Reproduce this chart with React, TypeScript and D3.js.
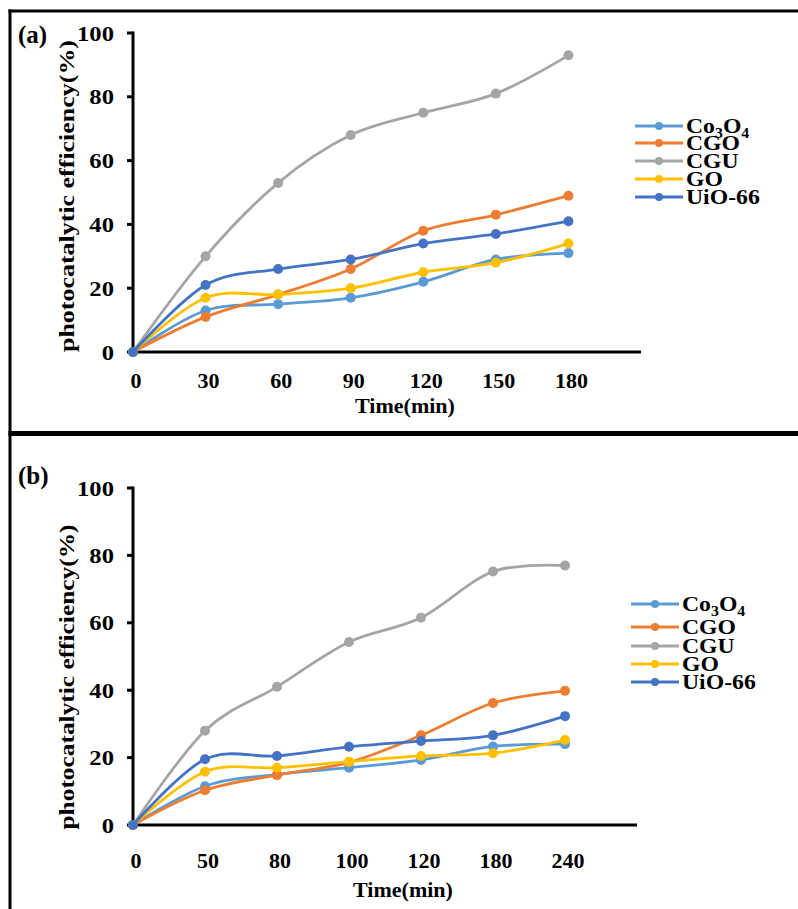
import React from "react";
import * as d3 from "d3";

const seriesNames = ["Co3O4", "CGO", "CGU", "GO", "UiO-66"];
const seriesColors = ["#5B9BD5", "#ED7D31", "#A5A5A5", "#FFC000", "#4472C4"];

const timesA = ["0", "30", "60", "90", "120", "150", "180"];
const co3o4A = [0, 13, 15, 17, 22, 29, 31];
const cgoA = [0, 11, 18, 26, 38, 43, 49];
const cguA = [0, 30, 53, 68, 75, 81, 93];
const goA = [0, 17, 18, 20, 25, 28, 34];
const uioA = [0, 21, 26, 29, 34, 37, 41];

const timesB = ["0", "50", "80", "100", "120", "180", "240"];
const co3o4B = [0, 11.5, 15, 17, 19.3, 23.3, 24];
const cgoB = [0, 10.3, 14.8, 18.6, 26.6, 36.2, 39.8];
const cguB = [0, 28, 41, 54.3, 61.5, 75.2, 77];
const goB = [0, 15.8, 17, 18.8, 20.5, 21.3, 25.2];
const uioB = [0, 19.5, 20.5, 23.2, 24.9, 26.6, 32.3];

const yTicks = [0, 20, 40, 60, 80, 100];

const FONT = "'Liberation Serif', 'Times New Roman', serif";

type PanelProps = {
  label: string;
  times: string[];
  data: number[][];
  x0: number;
  x1: number;
  yTop: number;
  yBottom: number;
  labelY: number;
  xLabelBase: number;
  xTitleY: number;
  yTitleCy: number;
  yTitleLen: number;
  legendX: number;
  legendYs: number[];
};

function Panel(p: PanelProps) {
  const x = d3.scaleLinear().domain([0, 7]).range([p.x0, p.x1]);
  const y = d3.scaleLinear().domain([0, 100]).range([p.yBottom, p.yTop]);
  const line = d3
    .line<number>()
    .x((_, i) => x(i))
    .y((d) => y(d))
    .curve(d3.curveCardinal.tension(0));
  const axisX = x(0);
  return (
    <g fontFamily={FONT} fontWeight="bold">
      <text x={18} y={p.labelY} fontSize={25}>
        {p.label}
      </text>
      <text
        transform={`translate(74,${p.yTitleCy}) rotate(-90)`}
        textAnchor="middle"
        fontSize={21}
        textLength={p.yTitleLen}
        lengthAdjust="spacingAndGlyphs"
      >
        photocatalytic efficiency(%)
      </text>
      {/* y axis */}
      <line x1={axisX} x2={axisX} y1={y(100) - 1.5} y2={y(0)} stroke="#000" strokeWidth={3} />
      {yTicks.map((t) => (
        <g key={t}>
          <line x1={axisX - 6} x2={axisX} y1={y(t)} y2={y(t)} stroke="#000" strokeWidth={3} />
          <text
            transform={`translate(114,${y(t) + 7.5}) scale(1.12,1)`}
            textAnchor="end"
            fontSize={22}
          >
            {t}
          </text>
        </g>
      ))}
      {/* x axis */}
      <line x1={axisX - 1.5} x2={x(7)} y1={y(0)} y2={y(0)} stroke="#000" strokeWidth={3} />
      {p.times.map((t, i) => (
        <text key={t} x={x(i) + 3} y={p.xLabelBase} textAnchor="middle" fontSize={22}>
          {t}
        </text>
      ))}
      <text x={(x(0) + x(7)) / 2 + 18} y={p.xTitleY} textAnchor="middle" fontSize={22}>
        Time(min)
      </text>
      {/* series */}
      {p.data.map((vals, si) => (
        <g key={si}>
          <path d={line(vals) || ""} fill="none" stroke={seriesColors[si]} strokeWidth={2.8} />
          {vals.map((v, i) => (
            <circle key={i} cx={x(i)} cy={y(v)} r={5} fill={seriesColors[si]} />
          ))}
        </g>
      ))}
      {/* legend */}
      {seriesNames.map((n, si) => {
        const ly = p.legendYs[si];
        return (
          <g key={n}>
            <line x1={p.legendX} x2={p.legendX + 48} y1={ly} y2={ly} stroke={seriesColors[si]} strokeWidth={2.8} />
            <circle cx={p.legendX + 24} cy={ly} r={4} fill={seriesColors[si]} />
            <text
              transform={`translate(${p.legendX + 51},${ly + 7}) scale(1.13,1)`}
              fontSize={21}
            >
              {n === "Co3O4" ? (
                <>
                  Co
                  <tspan fontSize={14} dy={5}>
                    3
                  </tspan>
                  <tspan dy={-5}>O</tspan>
                  <tspan fontSize={14} dy={5}>
                    4
                  </tspan>
                </>
              ) : (
                n
              )}
            </text>
          </g>
        );
      })}
    </g>
  );
}

export default function App() {
  return (
    <svg
      width={798}
      height={909}
      style={{ position: "absolute", left: 0, top: 0, background: "#fff" }}
    >
      <rect x={0} y={0} width={798} height={909} fill="#fff" />
      {/* frame */}
      <line x1={8.5} x2={798} y1={11} y2={11} stroke="#000" strokeWidth={3} />
      <line x1={10} x2={10} y1={9.5} y2={909} stroke="#000" strokeWidth={3} />
      <line x1={8.5} x2={798} y1={433.5} y2={433.5} stroke="#000" strokeWidth={5} />
      <Panel
        label="(a)"
        times={timesA}
        data={[co3o4A, cgoA, cguA, goA, uioA]}
        x0={133}
        x1={641}
        yTop={33}
        yBottom={352}
        labelY={43}
        xLabelBase={388}
        xTitleY={413}
        yTitleCy={196}
        yTitleLen={312}
        legendX={635}
        legendYs={[126, 143, 161, 179, 197]}
      />
      <Panel
        label="(b)"
        times={timesB}
        data={[co3o4B, cgoB, cguB, goB, uioB]}
        x0={133}
        x1={637}
        yTop={488}
        yBottom={825}
        labelY={484}
        xLabelBase={868}
        xTitleY={897}
        yTitleCy={677}
        yTitleLen={305}
        legendX={631}
        legendYs={[604, 627, 646, 664, 682]}
      />
    </svg>
  );
}
